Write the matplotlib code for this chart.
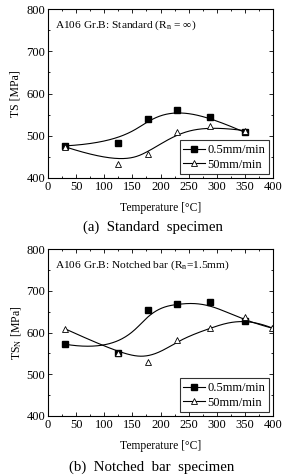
import numpy as np
import matplotlib
matplotlib.use('Agg')
from matplotlib import pyplot as plt
from matplotlib.ticker import MultipleLocator

plt.rcParams['font.family'] = ['Liberation Serif', 'DejaVu Serif']
plt.rcParams['mathtext.fontset'] = 'stix'

# (a) standard specimen
temp_a_slow = [30, 125, 177, 230, 288, 350]
ts_a_slow = [476, 483, 540, 562, 544, 508]
temp_a_fast = [30, 125, 177, 230, 288, 350]
ts_a_fast = [474, 433, 457, 510, 523, 512]

# (b) notched bar specimen
temp_b_slow = [30, 125, 177, 230, 288, 350, 400]
ts_b_slow = [572, 551, 655, 669, 673, 627, 610]
temp_b_fast = [30, 125, 177, 230, 288, 350, 398]
ts_b_fast = [609, 551, 530, 581, 611, 637, 611]

xticks = [0, 50, 100, 150, 200, 250, 300, 350, 400]
yticks = [400, 500, 600, 700, 800]

W, H = 284, 475


def basis(i, k, t, knots):
  # Cox-de Boor recursion
  if k == 0:
    return ((knots[i] <= t) & (t < knots[i+1])).astype(float)
  out = np.zeros_like(t)
  d1 = knots[i+k] - knots[i]
  d2 = knots[i+k+1] - knots[i+1]
  if d1 > 0:
    out += (t - knots[i]) / d1 * basis(i, k-1, t, knots)
  if d2 > 0:
    out += (knots[i+k+1] - t) / d2 * basis(i+1, k-1, t, knots)
  return out


def bspline(xs, ys, n=300, k=3):
  # clamped B-spline using the data points as control points (Origin style)
  P = np.column_stack([xs, ys]).astype(float)
  m = len(P)
  knots = np.concatenate([[0]*k, np.linspace(0, 1, m-k+1), [1]*k])
  t = np.linspace(0, 1, n)
  t[-1] -= 1e-9
  B = np.array([basis(i, k, t, knots) for i in range(m)])
  c = B.T @ P
  return c[:, 0], c[:, 1]


def panel(ax, xs1, ys1, xs2, ys2, note, ylabel):
  cx, cy = bspline(xs1, ys1)
  ax.plot(cx, cy, color='k', lw=0.8)
  cx, cy = bspline(xs2, ys2)
  ax.plot(cx, cy, color='k', lw=0.8)
  # squares sitting on the right border are hidden in the original
  shown = [i for i, x in enumerate(xs1) if x < 400]
  ax.plot(xs1, ys1, ls='none', marker='s', ms=4.2, color='k', markevery=shown)
  ax.plot(xs2, ys2, ls='none', marker='^', ms=5, mfc='white', mec='k', mew=0.6)
  # legend proxies
  ax.plot([], [], '-s', color='k', lw=0.8, ms=4.2, label='0.5mm/min')
  ax.plot([], [], '-^', color='k', lw=0.8, ms=5, mfc='white', mew=0.6, label='50mm/min')
  leg = ax.legend(loc='lower right', fontsize=9, frameon=True, fancybox=False,
                  edgecolor='k', handlelength=1.7, handletextpad=0.25,
                  borderpad=0.3, labelspacing=0.2, borderaxespad=0.3)
  leg.get_frame().set_linewidth(0.8)
  ax.set_xlim(0, 400)
  ax.set_ylim(400, 800)
  ax.set_xticks(xticks)
  ax.set_yticks(yticks)
  ax.xaxis.set_minor_locator(MultipleLocator(25))
  ax.yaxis.set_minor_locator(MultipleLocator(50))
  ax.tick_params(which='both', direction='in', top=True, right=True, width=0.6)
  ax.tick_params(which='major', labelsize=9, length=3, pad=2)
  ax.tick_params(which='minor', length=1.5)
  for s in ax.spines.values():
    s.set_linewidth(0.8)
  ax.text(7/225, 1-16/169, note, transform=ax.transAxes, ha='left', va='center', fontsize=8.2)
  ax.set_ylabel(ylabel, fontsize=8.5)
  ax.yaxis.set_label_coords(-32/225, 0.5)
  ax.yaxis.label.set_va('center')
  ax.set_xlabel('Temperature [°C]', fontsize=8.3)
  ax.xaxis.set_label_coords(0.5, -30/169)
  ax.xaxis.label.set_va('center')


fig = plt.figure(figsize=(W/100, H/100), dpi=100)
ax1 = fig.add_axes([48/W, 1-178/H, 225/W, 169/H])
ax2 = fig.add_axes([48/W, 1-416/H, 225/W, 167/H])

panel(ax1, temp_a_slow, ts_a_slow, temp_a_fast, ts_a_fast,
      'A106 Gr.B: Standard (R$_\\mathregular{n}$ = ∞)', 'TS [MPa]')
panel(ax2, temp_b_slow, ts_b_slow, temp_b_fast, ts_b_fast,
      'A106 Gr.B: Notched bar (R$_\\mathregular{n}$=1.5mm)', 'TS$_\\mathregular{N}$ [MPa]')

fig.text(153/W, 1-227/H, '(a)  Standard  specimen', ha='center', va='center', fontsize=10.7)
fig.text(152/W, 1-467/H, '(b)  Notched  bar  specimen', ha='center', va='center', fontsize=10.7)

fig.savefig('out.png', dpi=100)
